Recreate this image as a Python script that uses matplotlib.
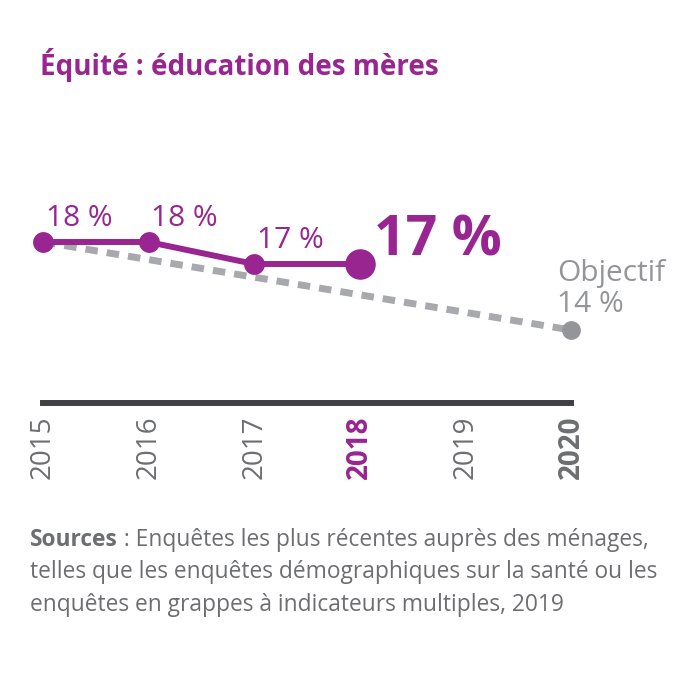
import matplotlib
matplotlib.use("Agg")
import matplotlib.pyplot as plt

years = [2015, 2016, 2017, 2018, 2019, 2020]
obs_years = [2015, 2016, 2017, 2018]
obs_values = [18, 18, 17, 17]
obs_labels = ["18 %", "18 %", "17 %", "17 %"]
target_years = [2015, 2020]
target_values = [18, 14]

PURPLE = "#982590"
GREY_LINE = "#a7a9ac"
GREY_TXT = "#6d6e71"
GREY_OBJ = "#939598"
DARK = "#414042"

plt.rcParams['font.family'] = ['Open Sans', 'DejaVu Sans']

fig = plt.figure(figsize=(7, 7), dpi=100)
ax = fig.add_axes([43/700, 1 - 403/700, (571 - 43)/700, (403 - 100)/700])
ax.set_xlim(2015, 2020)
ax.set_ylim(18 - (403 - 242)/22, 18 + (242 - 100)/22)

# target path (dashed)
ax.plot(target_years, target_values, color=GREY_LINE, lw=5, ls=(0, (1.8, 1.3)),
        dash_capstyle="butt", zorder=1, clip_on=False)
ax.plot([2020], [14], "o", color=GREY_OBJ, ms=13.5, mec="none", zorder=3, clip_on=False)

# observed values
ax.plot(obs_years, obs_values, color=PURPLE, lw=4.3, zorder=2, clip_on=False)
ax.plot(obs_years[:-1], obs_values[:-1], "o", color=PURPLE, ms=15, mec="none", zorder=3, clip_on=False)
ax.plot(obs_years[-1:], obs_values[-1:], "o", color=PURPLE, ms=22, mec="none", zorder=3, clip_on=False)

for x, y, lab in zip(obs_years[:-1], obs_values[:-1], obs_labels[:-1]):
    ax.annotate(lab, (x, y), xytext=(2, 11.5), textcoords="offset points",
                ha="left", va="baseline", fontsize=21.5, color=PURPLE)
ax.annotate(obs_labels[-1], (obs_years[-1], obs_values[-1]), xytext=(10, 6),
            textcoords="offset points", ha="left", va="baseline", fontsize=40,
            fontweight="bold", color=PURPLE)
ax.annotate("Objectif\n14 %", (2020, 14), xytext=(-10, 13), textcoords="offset points",
            ha="left", va="baseline", fontsize=21.5, color=GREY_OBJ, linespacing=1.1)

for s in ["top", "left", "right"]:
    ax.spines[s].set_visible(False)
ax.spines["bottom"].set_color(DARK)
ax.spines["bottom"].set_linewidth(4.3)
ax.set_yticks([])
ax.set_xticks(years)
ax.set_xticklabels([str(y) for y in years], rotation=90, va="top", ha="center", fontsize=20)
ax.tick_params(axis="x", length=0, pad=9)
for lab, y in zip(ax.get_xticklabels(), years):
    lab.set_color(GREY_TXT)
    if y == 2018:
        lab.set_color(PURPLE)
        lab.set_fontweight("bold")
    if y == 2020:
        lab.set_fontweight("bold")
ax.patch.set_visible(False)

fig.text(40/700, 1 - 75/700, "Équité : éducation des mères", fontsize=20,
         fontweight="bold", color=PURPLE, ha="left", va="baseline")

lines = [("Sources", " : Enquêtes les plus récentes auprès des ménages,"),
         (None, "telles que les enquêtes démographiques sur la santé ou les"),
         (None, "enquêtes en grappes à indicateurs multiples, 2019")]
fig.canvas.draw()
r = fig.canvas.get_renderer()
for i, (b, rest) in enumerate(lines):
    yb = 1 - (546 + 32.5 * i)/700
    x0 = 30/700
    if b:
        t = fig.text(x0, yb, b, fontsize=16.4, fontweight="bold", color=GREY_TXT, va="baseline")
        bb = t.get_window_extent(renderer=r)
        x0 = bb.x1 / fig.bbox.width
    fig.text(x0, yb, rest, fontsize=16.4, color=GREY_TXT, va="baseline")

fig.savefig("out.png", dpi=100)
